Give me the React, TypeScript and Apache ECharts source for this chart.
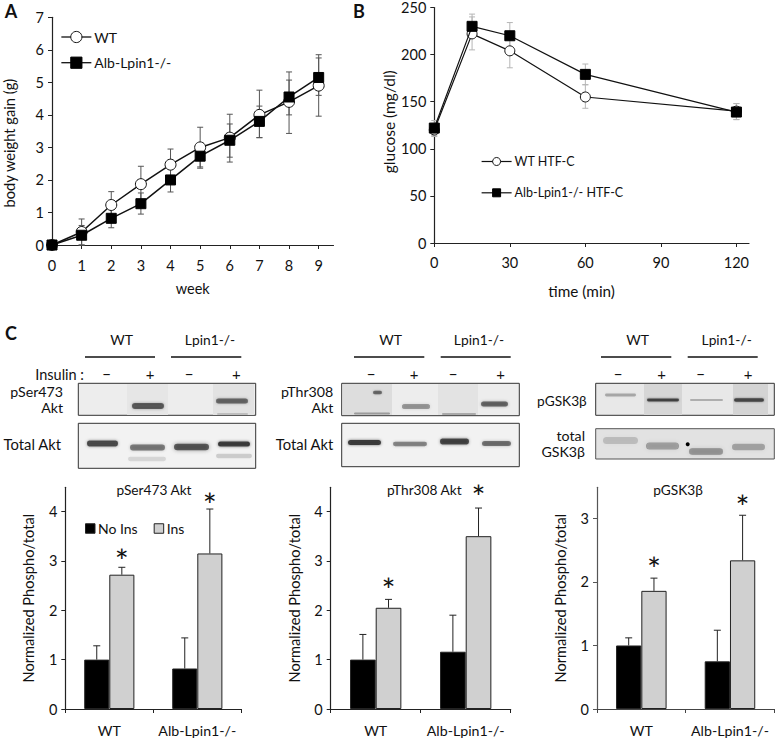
import React, { useEffect, useRef } from "react";
import * as echarts from "echarts";

const FONT = "Lato";
const INK = "#111";

// Panel A
const weeks = [0, 1, 2, 3, 4, 5, 6, 7, 8, 9];
const wtGain = [0, 0.4, 1.23, 1.87, 2.47, 3.0, 3.3, 4.0, 4.4, 4.9];
const wtGainLow = [0, 0.0, 0.85, 1.35, 2.0, 2.4, 2.55, 3.3, 3.43, 3.96];
const wtGainHigh = [0, 0.8, 1.64, 2.42, 2.95, 3.62, 4.02, 4.76, 5.32, 5.85];
const koGain = [0, 0.3, 0.82, 1.27, 2.0, 2.73, 3.22, 3.8, 4.55, 5.15];
const koGainLow = [0, 0.0, 0.53, 0.95, 1.63, 2.36, 2.7, 3.3, 4.0, 4.6];
const koGainHigh = [0, 0.6, 1.1, 1.6, 2.4, 3.1, 3.72, 4.27, 5.07, 5.75];

// Panel B
const minutes = [0, 15, 30, 60, 120];
const wtGlucose = [120, 222, 204, 155, 140];
const wtGlucoseLow = [113, 205, 186, 143, 131];
const wtGlucoseHigh = [127, 240, 222, 168, 148];
const koGlucose = [122, 230, 220, 179, 139];
const koGlucoseLow = [114, 220, 207, 168, 131];
const koGlucoseHigh = [130, 243, 234, 190, 148];

// Panel C
const groups = ["WT", "Alb-Lpin1-/-"];
const serNoIns = [1.0, 0.82];
const serIns = [2.72, 3.15];
const serNoInsHigh = [1.28, 1.44];
const serInsHigh = [2.87, 4.05];
const serStars = [3.1, 4.23];
const thrNoIns = [1.0, 1.16];
const thrIns = [2.05, 3.5];
const thrNoInsHigh = [1.51, 1.9];
const thrInsHigh = [2.22, 4.07];
const thrStars = [2.52, 4.39];
const gskNoIns = [1.0, 0.75];
const gskIns = [1.86, 2.34];
const gskNoInsHigh = [1.12, 1.24];
const gskInsHigh = [2.06, 3.05];
const gskStars = [2.28, 3.26];

const txt = (text: string, x: number, y: number, fontSize = 14.3, textAlign = "center", extra: any = {}) => ({
  type: "text",
  silent: true,
  x,
  y,
  style: { text, fontSize, fontFamily: FONT, fill: INK, textAlign, textVerticalAlign: "middle", ...extra },
});

const band = (x0: number, x1: number, cy: number, h: number, rgb: string, a: number) => {
  const core = Math.max(2, h * 0.72);
  return {
    type: "rect",
    silent: true,
    shape: { x: x0 + 2, y: cy - core / 2, width: x1 - x0 - 4, height: core, r: core / 2 },
    style: {
      fill: `rgba(${rgb},${a * 0.72})`,
      shadowBlur: h * 0.45,
      shadowColor: `rgba(${rgb},${a * 0.72})`,
    },
  };
};

const box = (x0: number, x1: number, y0: number, y1: number, fill: string, stroke = "#333") => ({
  type: "rect",
  silent: true,
  shape: { x: x0, y: y0, width: x1 - x0, height: y1 - y0 },
  style: { fill, stroke, lineWidth: 1 },
});

const shade = (x0: number, x1: number, y0: number, y1: number, fill: string) => ({
  type: "rect",
  silent: true,
  shape: { x: x0, y: y0, width: x1 - x0, height: y1 - y0 },
  style: { fill },
});

const rule = (x0: number, x1: number, y: number) => ({
  type: "line",
  silent: true,
  shape: { x1: x0, y1: y, x2: x1, y2: y },
  style: { stroke: "#111", lineWidth: 1.3 },
});

const header = (a0: number, a1: number, b0: number, b1: number, marks: number[], wtX: number, koX: number) => [
  txt("WT", wtX, 339, 14),
  txt("Lpin1-/-", koX, 339, 13.8),
  rule(a0, a1, 357),
  rule(b0, b1, 357),
  txt("\u2212", marks[0], 373.5, 15),
  txt("+", marks[1], 373.5, 15),
  txt("\u2212", marks[2], 373.5, 15),
  txt("+", marks[3], 373.5, 15),
];

const BK = "20,20,20";
const blotGraphics: any[] = [
  // Blot set 1
  ...header(85, 155, 171, 241.3, [106.7, 150, 189, 236.3], 121.7, 210),
  txt("Insulin :", 84, 374, 14.5, "right"),
  txt("pSer473", 63, 391.2, 14.2, "right"),
  txt("Akt", 63, 407, 14.2, "right"),
  txt("Total Akt", 61, 444, 14.8, "right"),
  box(78.3, 255.7, 383.3, 415.3, "#ededed"),
  shade(127, 168, 384, 415, "#e6e6e6"),
  shade(213, 254, 384, 415, "#e2e2e2"),
  band(130, 166, 406, 8, BK, 0.8),
  band(214, 250, 401, 7, BK, 0.72),
  band(215, 250, 414, 2, BK, 0.2),
  box(78.3, 255.7, 423.3, 468.3, "#f2f2f2"),
  band(85, 120, 443.5, 8, BK, 0.9),
  band(128, 167, 447.5, 8, BK, 0.65),
  band(172, 211, 447, 9, BK, 0.85),
  band(216, 252, 444, 7, BK, 1),
  band(126, 168, 459, 6, BK, 0.15),
  band(214, 254, 456, 6, BK, 0.2),
  // Blot set 2
  ...header(354, 424.3, 440.7, 510.7, [371, 414, 453, 500.7], 390.7, 479),
  txt("pThr308", 333.3, 391.2, 14.2, "right"),
  txt("Akt", 333.3, 407, 14.2, "right"),
  txt("Total Akt", 333.3, 444, 14.8, "right"),
  box(341.7, 519.3, 383.3, 415.7, "#ededed"),
  shade(342.5, 392, 384, 415, "#dddddd"),
  shade(438, 478, 384, 415, "#e3e3e3"),
  band(400, 432, 406.5, 7, BK, 0.5),
  band(479, 510, 404, 7, BK, 0.75),
  band(371, 384, 392.5, 5, BK, 0.7),
  band(352, 392, 413.5, 3, BK, 0.35),
  band(440, 478, 414, 2, BK, 0.3),
  box(341.7, 519.3, 423.3, 466.7, "#f2f2f2"),
  band(346, 383, 442.5, 7, BK, 1),
  band(391, 429, 444, 6, BK, 0.6),
  band(438, 471, 441.5, 8, BK, 0.92),
  band(480, 513, 443.5, 7, BK, 0.7),
  // Blot set 3
  ...header(601, 671.3, 687.7, 757.7, [618, 661.7, 700.7, 748], 637.7, 726.7),
  txt("pGSK3\u03b2", 586.7, 400.7, 13.7, "right"),
  txt("total", 585, 435.7, 14.2, "right"),
  txt("GSK3\u03b2", 585, 451, 14.2, "right"),
  box(595.7, 774.3, 383.3, 415.3, "#e8e8e8"),
  shade(644, 682, 384, 415, "#d6d6d6"),
  shade(733, 768, 384, 415, "#d4d4d4"),
  band(603, 638, 395, 4, BK, 0.35),
  band(645, 681, 400, 4, BK, 0.9),
  band(688, 725, 400, 3, BK, 0.3),
  band(732, 766, 400, 5, BK, 0.9),
  box(595.7, 774.3, 428.7, 459, "#e2e2e2", "#555"),
  band(601, 640, 440.5, 10, BK, 0.22),
  band(644, 681, 446, 10, BK, 0.42),
  band(687, 725, 451.5, 9, BK, 0.48),
  band(730, 767, 447, 9, BK, 0.36),
  { type: "circle", silent: true, shape: { cx: 687.7, cy: 444.3, r: 2 }, style: { fill: "#000" } },
  // Panel letters
  txt("A", 11, 10.5, 18, "center", { fontWeight: "bold" }),
  txt("B", 359, 10.5, 18, "center", { fontWeight: "bold" }),
  txt("C", 11, 333, 18, "center", { fontWeight: "bold" }),
];

const rangeBars = (name: string, idx: number, xs: number[], lo: number[], hi: number[], color: string, cap: number) => ({
  type: "custom",
  name,
  xAxisIndex: idx,
  yAxisIndex: idx,
  z: 1,
  silent: true,
  clip: false,
  data: xs.map((x, i) => [x, lo[i], hi[i]]),
  encode: { x: 0, y: [1, 2] },
  renderItem: (_: any, api: any) => {
    const a = api.coord([api.value(0), api.value(1)]);
    const b = api.coord([api.value(0), api.value(2)]);
    const st = { stroke: color, lineWidth: 1, fill: "none" };
    const seg = (x1: number, y1: number, x2: number, y2: number) => ({
      type: "line",
      shape: { x1, y1, x2, y2 },
      style: st,
    });
    return {
      type: "group",
      children: [
        seg(a[0], a[1], b[0], b[1]),
        seg(a[0] - cap, a[1], a[0] + cap, a[1]),
        seg(b[0] - cap, b[1], b[0] + cap, b[1]),
      ],
    };
  },
});

const BAR_FRACTION = (1 - 0.43) / 2;

const upperBars = (name: string, idx: number, vals: number[], hi: number[], side: number) => ({
  type: "custom",
  name,
  xAxisIndex: idx,
  yAxisIndex: idx,
  z: 1,
  silent: true,
  clip: false,
  data: vals.map((v, i) => [i, v, hi[i]]),
  encode: { x: 0, y: [1, 2] },
  renderItem: (_: any, api: any) => {
    const off = (side * api.size([1, 0])[0] * BAR_FRACTION) / 2;
    const a = api.coord([api.value(0), api.value(1)]);
    const b = api.coord([api.value(0), api.value(2)]);
    const x = a[0] + off;
    const st = { stroke: "#222", lineWidth: 1, fill: "none" };
    return {
      type: "group",
      children: [
        { type: "line", shape: { x1: x, y1: a[1], x2: x, y2: b[1] }, style: st },
        { type: "line", shape: { x1: x - 3.5, y1: b[1], x2: x + 3.5, y2: b[1] }, style: st },
      ],
    };
  },
});

const starMarks = (idx: number, ys: number[]) => ({
  type: "custom",
  name: "significance " + idx,
  xAxisIndex: idx,
  yAxisIndex: idx,
  z: 5,
  silent: true,
  clip: false,
  data: ys.map((y, i) => [i, y]),
  encode: { x: 0, y: 1 },
  renderItem: (_: any, api: any) => {
    const off = (api.size([1, 0])[0] * BAR_FRACTION) / 2;
    const p = api.coord([api.value(0), api.value(1)]);
    return {
      type: "text",
      x: p[0] + off,
      y: p[1] + 4,
      style: { text: "*", fontFamily: FONT, fontSize: 33, fill: INK, textAlign: "center", textVerticalAlign: "middle" },
    };
  },
});

const lineSeries = (name: string, idx: number, xs: number[], ys: number[], filled: boolean, size: number, lw: number) => ({
  type: "line",
  name,
  xAxisIndex: idx,
  yAxisIndex: idx,
  z: filled ? 4 : 3,
  symbol: filled ? "rect" : "circle",
  symbolSize: size,
  showSymbol: true,
  clip: false,
  data: xs.map((x, i) => [x, ys[i]]),
  lineStyle: { color: "#111", width: lw },
  itemStyle: filled
    ? { color: "#000", borderColor: "#000", borderWidth: 1 }
    : { color: "#fff", borderColor: "#111", borderWidth: 1 },
});

const barSeries = (name: string, idx: number, vals: number[], color: string) => ({
  type: "bar",
  name,
  xAxisIndex: idx,
  yAxisIndex: idx,
  z: 2,
  barGap: 0,
  barCategoryGap: "43%",
  data: vals,
  itemStyle: { color, borderColor: "#222", borderWidth: 1 },
});

const tickLabel = { fontFamily: FONT, fontSize: 14.5, color: INK };
const nameText = { fontFamily: FONT, fontSize: 14.5, color: INK };
const axLine = (c = "#222") => ({ show: true, onZero: false, lineStyle: { color: c, width: 1.2 } });
const axTick = (c = "#222", extra: any = {}) => ({ show: true, length: 4, lineStyle: { color: c, width: 1 }, ...extra });

const valueY = (idx: number, max: number, ticks: number[], name: string, nameGap: number, pad: number[], color = "#222", fs = 14.6) => ({
  type: "value",
  gridIndex: idx,
  min: 0,
  max,
  splitLine: { show: false },
  axisLine: axLine(color),
  axisTick: axTick(color, { customValues: ticks }),
  axisLabel: { ...tickLabel, margin: 8, customValues: ticks },
  name,
  nameLocation: "middle",
  nameGap,
  nameTextStyle: { ...nameText, fontSize: fs, padding: pad },
});

const catX = (idx: number, color = "#222") => ({
  type: "category",
  gridIndex: idx,
  data: groups,
  axisLine: axLine(color),
  axisTick: axTick(color),
  axisLabel: { ...tickLabel, fontSize: 14.2, margin: 14, interval: 0, hideOverlap: false },
});

const titleAt = (text: string, x: number) => ({
  text,
  left: x,
  top: 482.5,
  textAlign: "center",
  padding: 0,
  textStyle: { fontFamily: FONT, fontSize: 13.7, fontWeight: "normal", color: INK },
});

const option: any = {
  animation: false,
  backgroundColor: "#fff",
  textStyle: { fontFamily: FONT },
  title: [titleAt("pSer473 Akt", 154), titleAt("pThr308 Akt", 424.3), titleAt("pGSK3\u03b2", 678)],
  grid: [
    { left: 49.5, top: 17.3, width: 284, height: 227.7 },
    { left: 434.3, top: 6.7, width: 314.7, height: 236.3 },
    { left: 65.3, top: 487.3, width: 176, height: 221.7 },
    { left: 330.7, top: 487.3, width: 180, height: 221.7 },
    { left: 597, top: 487.3, width: 177.3, height: 221.7 },
  ],
  xAxis: [
    {
      type: "value", gridIndex: 0, min: 0, max: 9.5, splitLine: { show: false },
      axisLine: axLine(), axisTick: axTick("#222", { customValues: weeks }),
      axisLabel: { ...tickLabel, margin: 13, customValues: weeks },
      name: "week", nameLocation: "middle", nameGap: 36, nameTextStyle: nameText,
    },
    {
      type: "value", gridIndex: 1, min: 0, max: 125, splitLine: { show: false },
      axisLine: axLine(), axisTick: axTick("#222", { customValues: [0, 30, 60, 90, 120] }),
      axisLabel: { ...tickLabel, margin: 12, customValues: [0, 30, 60, 90, 120] },
      name: "time (min)", nameLocation: "middle", nameGap: 40, nameTextStyle: { ...nameText, fontSize: 15.3, padding: [0, 20, 0, 0] },
    },
    catX(2), catX(3), catX(4, "#444"),
  ],
  yAxis: [
    valueY(0, 7, [0, 1, 2, 3, 4, 5, 6, 7], "body weight gain (g)", 36, [0, 24, 0, 0], "#222", 14.7),
    valueY(1, 250, [0, 50, 100, 150, 200, 250], "glucose (mg/dl)", 37, [0, 0, 0, 7], "#222", 15.5),
    valueY(2, 4.49, [0, 1, 2, 3, 4], "Normalized Phospho/total", 29, [0, 0, 0, 0]),
    valueY(3, 4.49, [0, 1, 2, 3, 4], "Normalized Phospho/total", 29, [0, 0, 0, 0]),
    valueY(4, 3.49, [0, 1, 2, 3], "Normalized Phospho/total", 29, [0, 0, 0, 0], "#555"),
  ],
  legend: [
    {
      data: ["WT", "Alb-Lpin1-/-"], orient: "vertical", left: 60.7, top: 30, padding: 0,
      itemWidth: 30, itemHeight: 14, itemGap: 11.7, selectedMode: false,
      itemStyle: { borderWidth: 1 }, lineStyle: { width: 1.3 },
      textStyle: { ...nameText, fontSize: 14, padding: [0, 0, 0, -2] },
    },
    {
      data: ["WT HTF-C", "Alb-Lpin1-/- HTF-C"], orient: "vertical", left: 481, top: 155, padding: 0,
      itemWidth: 30, itemHeight: 10, itemGap: 18.3, selectedMode: false,
      itemStyle: { borderWidth: 1 }, lineStyle: { width: 1.2 },
      textStyle: { ...nameText, fontSize: 12.5, padding: [0, 0, 0, -2] },
    },
    {
      data: ["No Ins", "Ins"], orient: "horizontal", left: 85, top: 521.5, padding: 0,
      icon: "rect", itemWidth: 9.5, itemHeight: 9.5, itemGap: 16, selectedMode: false,
      itemStyle: { borderWidth: 1 },
      textStyle: { ...nameText, fontSize: 14, padding: [0, 0, 0, -2] },
    },
  ],
  series: [
    rangeBars("WT range", 0, weeks, wtGainLow, wtGainHigh, "#555", 3),
    rangeBars("KO range", 0, weeks, koGainLow, koGainHigh, "#555", 3),
    lineSeries("WT", 0, weeks, wtGain, false, 11, 1.5),
    lineSeries("Alb-Lpin1-/-", 0, weeks, koGain, true, 10, 1.5),
    rangeBars("WT HTF range", 1, minutes, wtGlucoseLow, wtGlucoseHigh, "#b5b5b5", 3),
    rangeBars("KO HTF range", 1, minutes, koGlucoseLow, koGlucoseHigh, "#b5b5b5", 3),
    lineSeries("WT HTF-C", 1, minutes, wtGlucose, false, 10, 1.2),
    lineSeries("Alb-Lpin1-/- HTF-C", 1, minutes, koGlucose, true, 10, 1.2),
    barSeries("No Ins", 2, serNoIns, "#000"),
    barSeries("Ins", 2, serIns, "#d0d0d0"),
    upperBars("ser no ins", 2, serNoIns, serNoInsHigh, -1),
    upperBars("ser ins", 2, serIns, serInsHigh, 1),
    starMarks(2, serStars),
    barSeries("No Ins", 3, thrNoIns, "#000"),
    barSeries("Ins", 3, thrIns, "#d0d0d0"),
    upperBars("thr no ins", 3, thrNoIns, thrNoInsHigh, -1),
    upperBars("thr ins", 3, thrIns, thrInsHigh, 1),
    starMarks(3, thrStars),
    barSeries("No Ins", 4, gskNoIns, "#000"),
    barSeries("Ins", 4, gskIns, "#d0d0d0"),
    upperBars("gsk no ins", 4, gskNoIns, gskNoInsHigh, -1),
    upperBars("gsk ins", 4, gskIns, gskInsHigh, 1),
    starMarks(4, gskStars),
  ],
  graphic: { elements: blotGraphics },
};

export default function App() {
  const ref = useRef<HTMLDivElement>(null);
  useEffect(() => {
    const chart = echarts.init(ref.current!, undefined, { renderer: "svg" });
    chart.setOption(option);
    return () => chart.dispose();
  }, []);
  return <div ref={ref} style={{ position: "absolute", left: 0, top: 0, width: 777, height: 738 }} />;
}
